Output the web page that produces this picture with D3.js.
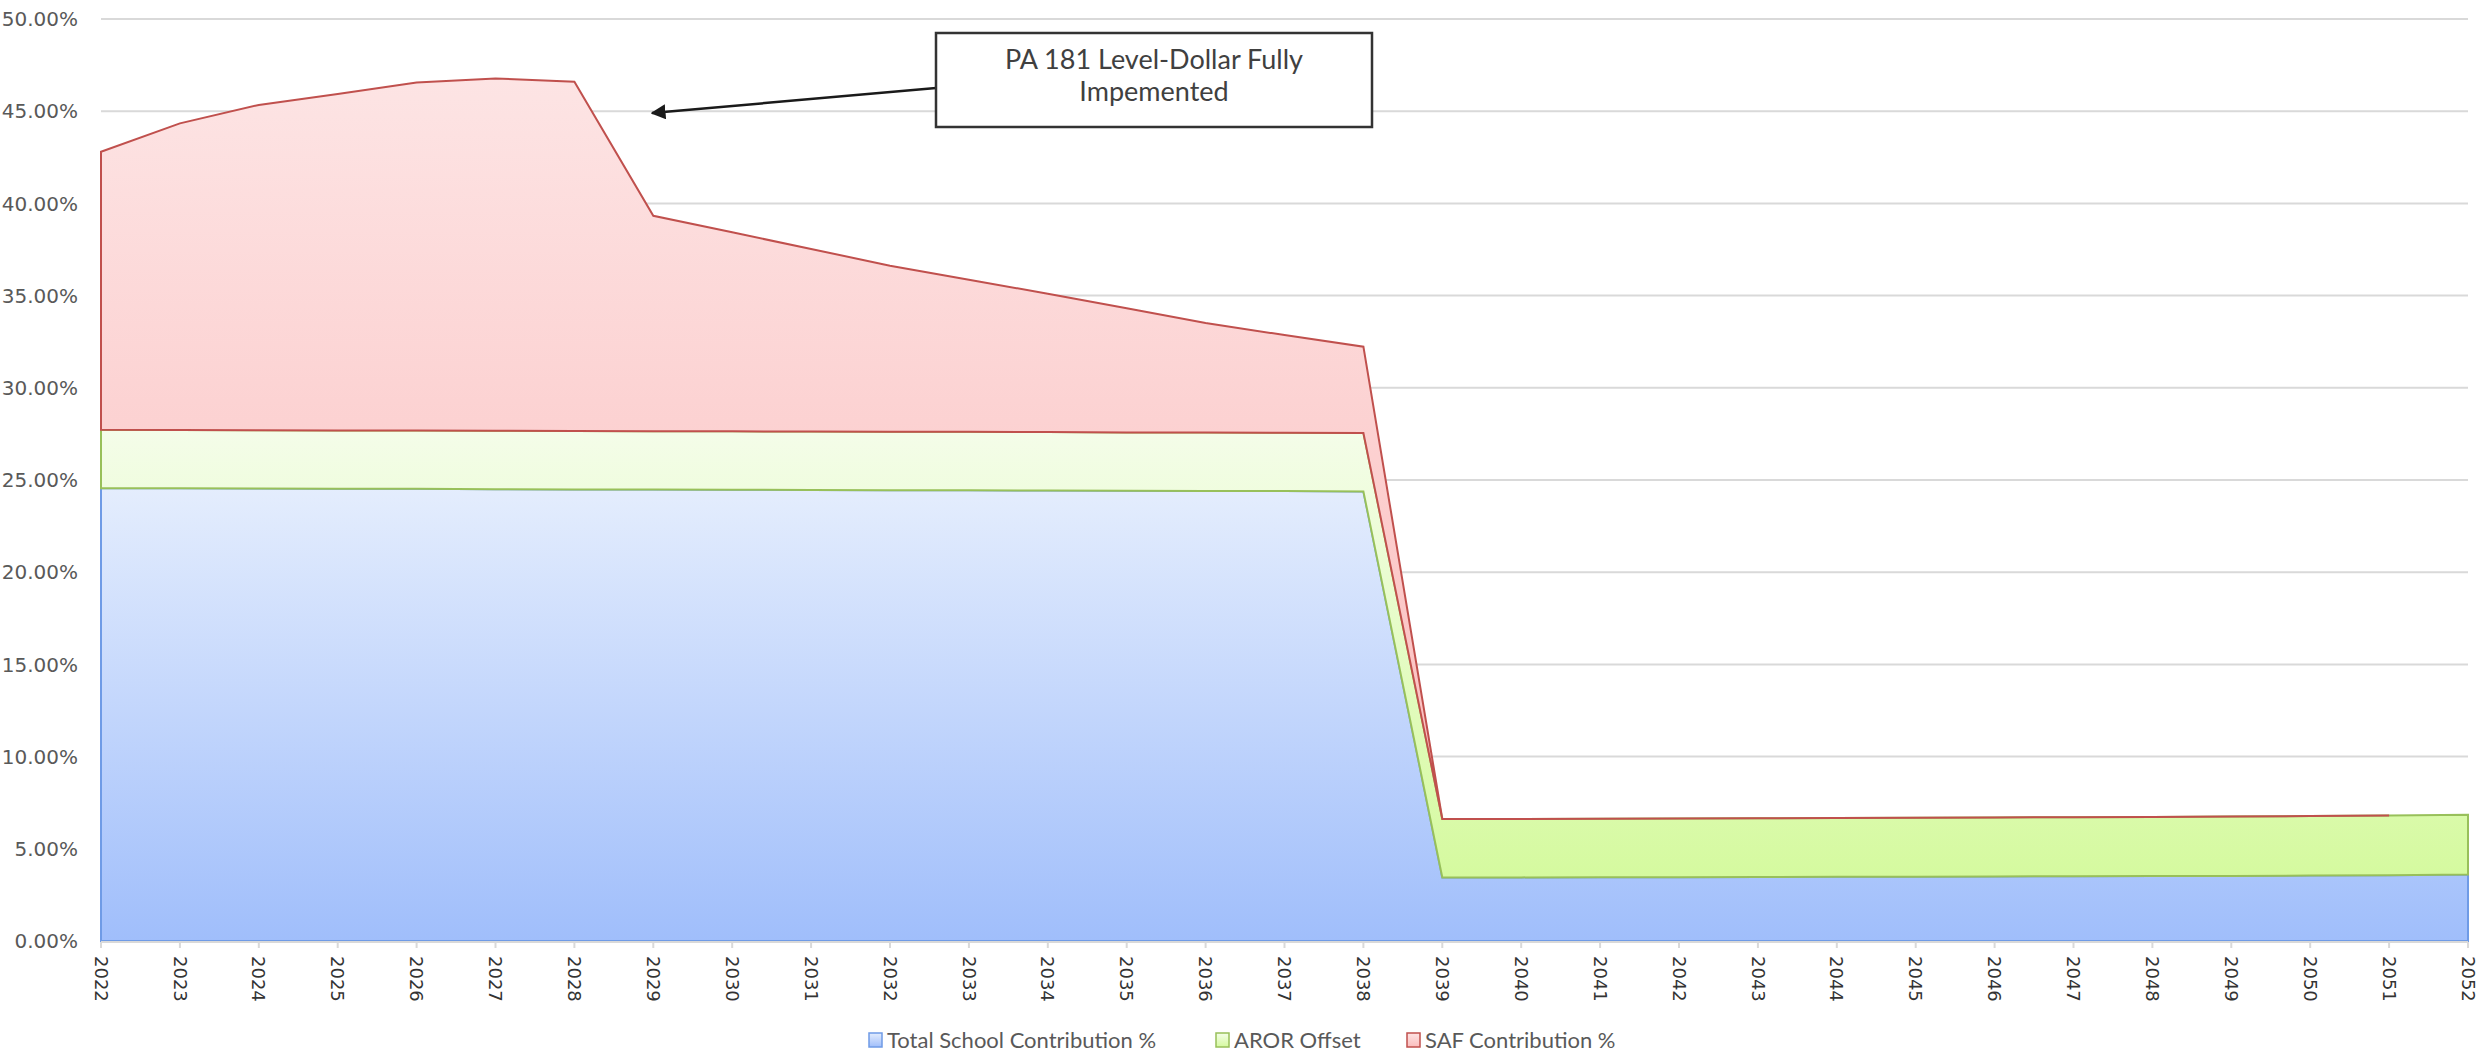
<!DOCTYPE html>
<html>
<head>
<meta charset="utf-8">
<script src="https://cdn.jsdelivr.net/npm/d3@7"></script>
<style>
  body { margin: 0; background: #fff; }
  svg { display: block; }
</style>
</head>
<body>
<div id="chart"></div>
<script>
// years on the x axis
var years = d3.range(2022, 2053);

// values in percent
var totalSchool = [24.55, 24.55, 24.54, 24.53, 24.52, 24.50, 24.49, 24.48, 24.47, 24.46, 24.45, 24.44, 24.43, 24.42, 24.41, 24.40, 24.38,
  3.45, 3.45, 3.46, 3.46, 3.47, 3.48, 3.49, 3.50, 3.51, 3.52, 3.53, 3.55, 3.57, 3.60];
var arorOffset = [3.17, 3.16, 3.16, 3.16, 3.16, 3.17, 3.17, 3.17, 3.17, 3.17, 3.17, 3.17, 3.17, 3.16, 3.16, 3.16, 3.17,
  3.17, 3.17, 3.17, 3.18, 3.18, 3.19, 3.20, 3.20, 3.20, 3.21, 3.22, 3.23, 3.24, 3.25];
var safContribution = [15.08, 16.63, 17.64, 18.24, 18.87, 19.11, 18.94, 11.68, 10.79, 9.90, 9.00, 8.25, 7.50, 6.73, 5.94, 5.30, 4.68,
  0, 0, 0, 0, 0, 0, 0, 0, 0, 0, 0, 0, 0, null];

var seriesNames = ["Total School Contribution %", "AROR Offset", "SAF Contribution %"];
var yTicks = [0, 5, 10, 15, 20, 25, 30, 35, 40, 45, 50];
var noteLines = ["PA 181 Level-Dollar Fully", "Impemented"];

var width = 2484, height = 1053;

var seriesStyle = [
  { key: "total", stroke: "#6f9be6", top: "#e4edfd", bottom: "#a0befb" },
  { key: "aror", stroke: "#98c05a", top: "#f4fde9", bottom: "#d5fa9f" },
  { key: "saf", stroke: "#c0504d", top: "#fde4e4", bottom: "#fbbdbd" }
];

var table = years.map(function (y, i) {
  return { year: y, total: totalSchool[i], aror: arorOffset[i], saf: safContribution[i] };
});

var svg = d3.select("#chart").append("svg")
  .attr("width", width)
  .attr("height", height);

var x = d3.scaleLinear().domain([2022, 2052]).range([101, 2468]);
var y = d3.scaleLinear().domain([0, 50]).range([941, 19]);

var defs = svg.append("defs");
seriesStyle.forEach(function (s) {
  var g = defs.append("linearGradient")
    .attr("id", "grad-" + s.key)
    .attr("x1", 0).attr("y1", 0).attr("x2", 0).attr("y2", 1);
  g.append("stop").attr("offset", "0%").attr("stop-color", s.top);
  g.append("stop").attr("offset", "100%").attr("stop-color", s.bottom);
});

// gridlines
svg.append("g")
  .selectAll("line")
  .data(yTicks.filter(function (d) { return d > 0; }))
  .enter().append("line")
  .attr("x1", x(2022)).attr("x2", x(2052))
  .attr("y1", function (d) { return y(d); })
  .attr("y2", function (d) { return y(d); })
  .style("stroke", "#d9d9d9")
  .style("stroke-width", 2);

// y axis labels
svg.append("g")
  .selectAll("text")
  .data(yTicks)
  .enter().append("text")
  .attr("x", 78)
  .attr("y", function (d) { return y(d); })
  .attr("dy", "0.36em")
  .style("text-anchor", "end")
  .style("font-family", "DejaVu Sans")
  .style("font-size", "20px")
  .style("fill", "#595959")
  .text(function (d) { return d.toFixed(2) + "%"; });

// stacked areas
var stack = d3.stack()
  .keys(["total", "aror", "saf"])
  .value(function (d, key) { return d[key] == null ? 0 : d[key]; });
var stacked = stack(table);

stacked.forEach(function (layer, i) {
  var key = seriesStyle[i].key;
  var area = d3.area()
    .defined(function (d) { return d.data[key] != null; })
    .x(function (d) { return x(d.data.year); })
    .y0(function (d) { return y(d[0]); })
    .y1(function (d) { return y(d[1]); });
  svg.append("path")
    .datum(layer)
    .attr("d", area)
    .style("fill", "url(#grad-" + key + ")")
    .style("stroke", seriesStyle[i].stroke)
    .style("stroke-width", 2)
    .style("stroke-linejoin", "miter");
});

// x axis line and ticks
svg.append("line")
  .attr("x1", x(2022)).attr("x2", x(2052))
  .attr("y1", y(0) + 1).attr("y2", y(0) + 1)
  .style("stroke", "#d9d9d9")
  .style("stroke-width", 2);

svg.append("g")
  .selectAll("line")
  .data(years)
  .enter().append("line")
  .attr("x1", function (d) { return x(d); })
  .attr("x2", function (d) { return x(d); })
  .attr("y1", y(0) + 1)
  .attr("y2", y(0) + 7)
  .style("stroke", "#d9d9d9")
  .style("stroke-width", 2);

svg.append("g")
  .selectAll("text")
  .data(years)
  .enter().append("text")
  .attr("transform", function (d) { return "translate(" + x(d) + ",956) rotate(90)"; })
  .attr("dy", "0.35em")
  .style("text-anchor", "start")
  .style("font-family", "DejaVu Sans")
  .style("font-size", "18px")
  .style("fill", "#333")
  .text(function (d) { return d; });

// annotation
svg.append("defs").append("marker")
  .attr("id", "arrow")
  .attr("viewBox", "0 0 10 10")
  .attr("refX", 9).attr("refY", 5)
  .attr("markerWidth", 6).attr("markerHeight", 6)
  .attr("orient", "auto")
  .append("path")
  .attr("d", "M0,0 L10,5 L0,10 Z")
  .style("fill", "#1a1a1a");

svg.append("line")
  .attr("x1", 936).attr("y1", 88)
  .attr("x2", 652).attr("y2", 113)
  .style("stroke", "#1a1a1a")
  .style("stroke-width", 2.5)
  .attr("marker-end", "url(#arrow)");

svg.append("rect")
  .attr("x", 936).attr("y", 33)
  .attr("width", 436).attr("height", 94)
  .style("fill", "#fff")
  .style("stroke", "#333")
  .style("stroke-width", 2.5);

svg.append("g")
  .selectAll("text")
  .data(noteLines)
  .enter().append("text")
  .attr("x", 1154)
  .attr("y", function (d, i) { return 69 + i * 32; })
  .style("text-anchor", "middle")
  .style("font-family", "Lato")
  .style("font-size", "27px")
  .style("fill", "#404040")
  .text(function (d) { return d; });

// legend
var legendX = [869, 1216, 1407];
var legend = svg.append("g")
  .selectAll("g")
  .data(seriesNames)
  .enter().append("g")
  .attr("transform", function (d, i) { return "translate(" + legendX[i] + ",1033)"; });

legend.append("rect")
  .attr("width", 13).attr("height", 14)
  .style("fill", function (d, i) { return "url(#grad-" + seriesStyle[i].key + ")"; })
  .style("stroke", function (d, i) { return seriesStyle[i].stroke; })
  .style("stroke-width", 1.5);

legend.append("text")
  .attr("x", 18)
  .attr("y", 7)
  .attr("dy", "0.36em")
  .style("font-family", "Lato")
  .style("font-size", "22px")
  .style("fill", "#595959")
  .text(function (d) { return d; });
</script>
</body>
</html>
